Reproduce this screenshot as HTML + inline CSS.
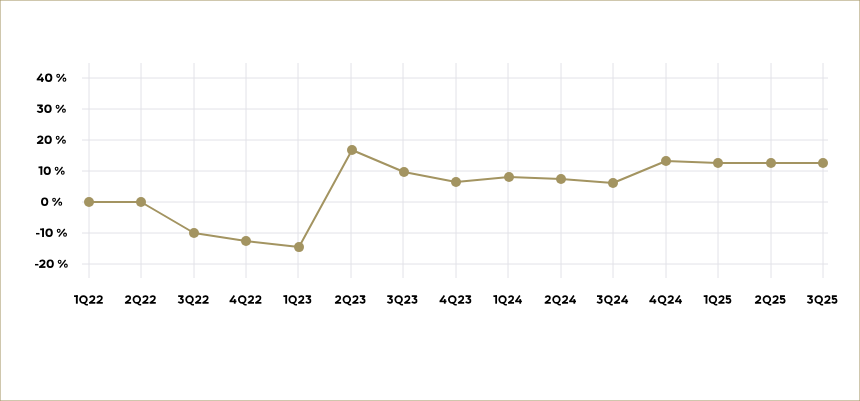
<!DOCTYPE html>
<html><head><meta charset="utf-8"><style>
html,body{margin:0;padding:0;background:#fff;}
.wrap{position:relative;width:860px;height:401px;background:#fff;overflow:hidden;}
svg{position:absolute;left:0;top:0;}
</style></head><body><div class="wrap">
<svg width="860" height="401" viewBox="0 0 860 401">
<line x1="82" y1="78" x2="828" y2="78" stroke="#e2e2e8" stroke-width="1"/>
<line x1="82" y1="109" x2="828" y2="109" stroke="#e2e2e8" stroke-width="1"/>
<line x1="82" y1="140" x2="828" y2="140" stroke="#e2e2e8" stroke-width="1"/>
<line x1="82" y1="171" x2="828" y2="171" stroke="#e2e2e8" stroke-width="1"/>
<line x1="82" y1="202" x2="828" y2="202" stroke="#e2e2e8" stroke-width="1"/>
<line x1="82" y1="233" x2="828" y2="233" stroke="#e2e2e8" stroke-width="1"/>
<line x1="82" y1="264" x2="828" y2="264" stroke="#e2e2e8" stroke-width="1"/>
<line x1="89" y1="63" x2="89" y2="278" stroke="#e2e2e8" stroke-width="1"/>
<line x1="141" y1="63" x2="141" y2="278" stroke="#e2e2e8" stroke-width="1"/>
<line x1="194" y1="63" x2="194" y2="278" stroke="#e2e2e8" stroke-width="1"/>
<line x1="246" y1="63" x2="246" y2="278" stroke="#e2e2e8" stroke-width="1"/>
<line x1="298" y1="63" x2="298" y2="278" stroke="#e2e2e8" stroke-width="1"/>
<line x1="351" y1="63" x2="351" y2="278" stroke="#e2e2e8" stroke-width="1"/>
<line x1="403" y1="63" x2="403" y2="278" stroke="#e2e2e8" stroke-width="1"/>
<line x1="456" y1="63" x2="456" y2="278" stroke="#e2e2e8" stroke-width="1"/>
<line x1="508" y1="63" x2="508" y2="278" stroke="#e2e2e8" stroke-width="1"/>
<line x1="561" y1="63" x2="561" y2="278" stroke="#e2e2e8" stroke-width="1"/>
<line x1="613" y1="63" x2="613" y2="278" stroke="#e2e2e8" stroke-width="1"/>
<line x1="666" y1="63" x2="666" y2="278" stroke="#e2e2e8" stroke-width="1"/>
<line x1="718" y1="63" x2="718" y2="278" stroke="#e2e2e8" stroke-width="1"/>
<line x1="771" y1="63" x2="771" y2="278" stroke="#e2e2e8" stroke-width="1"/>
<line x1="823" y1="63" x2="823" y2="278" stroke="#e2e2e8" stroke-width="1"/>
<polyline points="89,202 141,202 194,233 246,241 299,247.1 352,150 404,172 456,182 509,177 561,179 613,183 666,161 718,163 771,163 823,163" fill="none" stroke="#a39461" stroke-width="2" stroke-linejoin="round"/>
<circle cx="89" cy="202" r="5" fill="#a39461"/>
<circle cx="141" cy="202" r="5" fill="#a39461"/>
<circle cx="194" cy="233" r="5" fill="#a39461"/>
<circle cx="246" cy="241" r="5" fill="#a39461"/>
<circle cx="299" cy="247.1" r="5" fill="#a39461"/>
<circle cx="352" cy="150" r="5" fill="#a39461"/>
<circle cx="404" cy="172" r="5" fill="#a39461"/>
<circle cx="456" cy="182" r="5" fill="#a39461"/>
<circle cx="509" cy="177" r="5" fill="#a39461"/>
<circle cx="561" cy="179" r="5" fill="#a39461"/>
<circle cx="613" cy="183" r="5" fill="#a39461"/>
<circle cx="666" cy="161" r="5" fill="#a39461"/>
<circle cx="718" cy="163" r="5" fill="#a39461"/>
<circle cx="771" cy="163" r="5" fill="#a39461"/>
<circle cx="823" cy="163" r="5" fill="#a39461"/>
<g transform="translate(36.70,81.90) scale(0.9966,1)">
<path transform="translate(0.00,0)" d="M5.0,-8.2 L0.9,-2.4" fill="none" stroke="#000" stroke-width="1.75" stroke-linejoin="miter" stroke-miterlimit="3"/>
<path transform="translate(0.00,0)" d="M0,-2.3 L7.2,-2.3" fill="none" stroke="#000" stroke-width="1.6" stroke-linejoin="miter" stroke-miterlimit="3"/>
<path transform="translate(0.00,0)" d="M5.4,-4.6 L5.4,0" fill="none" stroke="#000" stroke-width="1.85" stroke-linejoin="miter" stroke-miterlimit="3"/>
<path transform="translate(8.30,0)" d="M0.000,-4.250 a3.700,4.250 0 1,0 7.400,0 a3.700,4.250 0 1,0 -7.400,0 Z M1.900,-4.250 a1.800,2.600 0 1,0 3.600,0 a1.800,2.600 0 1,0 -3.600,0 Z" fill="#000" fill-rule="evenodd"/>
<path transform="translate(19.60,0)" d="M0.000,-6.050 a1.950,2.100 0 1,0 3.900,0 a1.950,2.100 0 1,0 -3.900,0 Z M1.150,-6.050 a0.800,1.000 0 1,0 1.600,0 a0.800,1.000 0 1,0 -1.600,0 Z" fill="#000" fill-rule="evenodd"/>
<path transform="translate(19.60,0)" d="M6.300,-2.200 a1.950,2.150 0 1,0 3.900,0 a1.950,2.150 0 1,0 -3.900,0 Z M7.450,-2.200 a0.800,1.000 0 1,0 1.600,0 a0.800,1.000 0 1,0 -1.600,0 Z" fill="#000" fill-rule="evenodd"/>
<path transform="translate(19.60,0)" d="M7.95,-7.9 L2.0,-0.25" fill="none" stroke="#000" stroke-width="1.3" stroke-linejoin="miter" stroke-miterlimit="3"/>
</g>
<g transform="translate(36.90,112.90) scale(1.0069,1)">
<path transform="translate(0.00,0)" d="M0.3,-7.55 L5.5,-7.55 L2.7,-4.75 L3.1,-4.75 C4.5,-4.75 5.3,-3.9 5.3,-2.75 C5.3,-1.55 4.4,-0.85 3.0,-0.85 C1.9,-0.85 1.0,-1.25 0.4,-1.95" fill="none" stroke="#000" stroke-width="1.75" stroke-linejoin="bevel" stroke-miterlimit="3"/>
<path transform="translate(7.30,0)" d="M0.000,-4.250 a3.700,4.250 0 1,0 7.400,0 a3.700,4.250 0 1,0 -7.400,0 Z M1.900,-4.250 a1.800,2.600 0 1,0 3.600,0 a1.800,2.600 0 1,0 -3.600,0 Z" fill="#000" fill-rule="evenodd"/>
<path transform="translate(18.60,0)" d="M0.000,-6.050 a1.950,2.100 0 1,0 3.900,0 a1.950,2.100 0 1,0 -3.900,0 Z M1.150,-6.050 a0.800,1.000 0 1,0 1.600,0 a0.800,1.000 0 1,0 -1.600,0 Z" fill="#000" fill-rule="evenodd"/>
<path transform="translate(18.60,0)" d="M6.300,-2.200 a1.950,2.150 0 1,0 3.900,0 a1.950,2.150 0 1,0 -3.900,0 Z M7.450,-2.200 a0.800,1.000 0 1,0 1.600,0 a0.800,1.000 0 1,0 -1.600,0 Z" fill="#000" fill-rule="evenodd"/>
<path transform="translate(18.60,0)" d="M7.95,-7.9 L2.0,-0.25" fill="none" stroke="#000" stroke-width="1.3" stroke-linejoin="miter" stroke-miterlimit="3"/>
</g>
<g transform="translate(36.90,143.90) scale(0.9966,1)">
<path transform="translate(0.00,0)" d="M0.8,-6.0 C1.3,-7.2 2.2,-7.55 3.3,-7.55 C4.7,-7.55 5.55,-6.7 5.55,-5.6 C5.55,-4.7 5.0,-4.1 4.1,-3.35 L1.0,-0.95" fill="none" stroke="#000" stroke-width="1.75" stroke-linejoin="miter" stroke-miterlimit="3"/>
<path transform="translate(0.00,0)" d="M0.05,-0.85 L6.5,-0.85" fill="none" stroke="#000" stroke-width="1.75" stroke-linejoin="miter" stroke-miterlimit="3"/>
<path transform="translate(7.60,0)" d="M0.000,-4.250 a3.700,4.250 0 1,0 7.400,0 a3.700,4.250 0 1,0 -7.400,0 Z M1.900,-4.250 a1.800,2.600 0 1,0 3.600,0 a1.800,2.600 0 1,0 -3.600,0 Z" fill="#000" fill-rule="evenodd"/>
<path transform="translate(18.90,0)" d="M0.000,-6.050 a1.950,2.100 0 1,0 3.900,0 a1.950,2.100 0 1,0 -3.900,0 Z M1.150,-6.050 a0.800,1.000 0 1,0 1.600,0 a0.800,1.000 0 1,0 -1.600,0 Z" fill="#000" fill-rule="evenodd"/>
<path transform="translate(18.90,0)" d="M6.300,-2.200 a1.950,2.150 0 1,0 3.900,0 a1.950,2.150 0 1,0 -3.900,0 Z M7.450,-2.200 a0.800,1.000 0 1,0 1.600,0 a0.800,1.000 0 1,0 -1.600,0 Z" fill="#000" fill-rule="evenodd"/>
<path transform="translate(18.90,0)" d="M7.95,-7.9 L2.0,-0.25" fill="none" stroke="#000" stroke-width="1.3" stroke-linejoin="miter" stroke-miterlimit="3"/>
</g>
<g transform="translate(38.50,174.90) scale(0.9794,1)">
<path transform="translate(0.00,0)" d="M2.9,-8.4 L2.9,0" fill="none" stroke="#000" stroke-width="1.9" stroke-linejoin="miter" stroke-miterlimit="3"/>
<path transform="translate(0.00,0)" d="M0,-7.55 L3.85,-7.55" fill="none" stroke="#000" stroke-width="1.7" stroke-linejoin="miter" stroke-miterlimit="3"/>
<path transform="translate(5.25,0)" d="M0.000,-4.250 a3.700,4.250 0 1,0 7.400,0 a3.700,4.250 0 1,0 -7.400,0 Z M1.900,-4.250 a1.800,2.600 0 1,0 3.600,0 a1.800,2.600 0 1,0 -3.600,0 Z" fill="#000" fill-rule="evenodd"/>
<path transform="translate(16.55,0)" d="M0.000,-6.050 a1.950,2.100 0 1,0 3.900,0 a1.950,2.100 0 1,0 -3.900,0 Z M1.150,-6.050 a0.800,1.000 0 1,0 1.600,0 a0.800,1.000 0 1,0 -1.600,0 Z" fill="#000" fill-rule="evenodd"/>
<path transform="translate(16.55,0)" d="M6.300,-2.200 a1.950,2.150 0 1,0 3.900,0 a1.950,2.150 0 1,0 -3.900,0 Z M7.450,-2.200 a0.800,1.000 0 1,0 1.600,0 a0.800,1.000 0 1,0 -1.600,0 Z" fill="#000" fill-rule="evenodd"/>
<path transform="translate(16.55,0)" d="M7.95,-7.9 L2.0,-0.25" fill="none" stroke="#000" stroke-width="1.3" stroke-linejoin="miter" stroke-miterlimit="3"/>
</g>
<g transform="translate(41.00,205.90) scale(0.9860,1)">
<path transform="translate(0.00,0)" d="M0.000,-4.250 a3.700,4.250 0 1,0 7.400,0 a3.700,4.250 0 1,0 -7.400,0 Z M1.900,-4.250 a1.800,2.600 0 1,0 3.600,0 a1.800,2.600 0 1,0 -3.600,0 Z" fill="#000" fill-rule="evenodd"/>
<path transform="translate(11.30,0)" d="M0.000,-6.050 a1.950,2.100 0 1,0 3.900,0 a1.950,2.100 0 1,0 -3.900,0 Z M1.150,-6.050 a0.800,1.000 0 1,0 1.600,0 a0.800,1.000 0 1,0 -1.600,0 Z" fill="#000" fill-rule="evenodd"/>
<path transform="translate(11.30,0)" d="M6.300,-2.200 a1.950,2.150 0 1,0 3.900,0 a1.950,2.150 0 1,0 -3.900,0 Z M7.450,-2.200 a0.800,1.000 0 1,0 1.600,0 a0.800,1.000 0 1,0 -1.600,0 Z" fill="#000" fill-rule="evenodd"/>
<path transform="translate(11.30,0)" d="M7.95,-7.9 L2.0,-0.25" fill="none" stroke="#000" stroke-width="1.3" stroke-linejoin="miter" stroke-miterlimit="3"/>
</g>
<g transform="translate(36.00,236.90) scale(1.0049,1)">
<path transform="translate(0.00,0)" d="M0,-3.2 L3.5,-3.2" fill="none" stroke="#000" stroke-width="1.5" stroke-linejoin="miter" stroke-miterlimit="3"/>
<path transform="translate(4.10,0)" d="M2.9,-8.4 L2.9,0" fill="none" stroke="#000" stroke-width="1.9" stroke-linejoin="miter" stroke-miterlimit="3"/>
<path transform="translate(4.10,0)" d="M0,-7.55 L3.85,-7.55" fill="none" stroke="#000" stroke-width="1.7" stroke-linejoin="miter" stroke-miterlimit="3"/>
<path transform="translate(9.35,0)" d="M0.000,-4.250 a3.700,4.250 0 1,0 7.400,0 a3.700,4.250 0 1,0 -7.400,0 Z M1.900,-4.250 a1.800,2.600 0 1,0 3.600,0 a1.800,2.600 0 1,0 -3.600,0 Z" fill="#000" fill-rule="evenodd"/>
<path transform="translate(20.65,0)" d="M0.000,-6.050 a1.950,2.100 0 1,0 3.900,0 a1.950,2.100 0 1,0 -3.900,0 Z M1.150,-6.050 a0.800,1.000 0 1,0 1.600,0 a0.800,1.000 0 1,0 -1.600,0 Z" fill="#000" fill-rule="evenodd"/>
<path transform="translate(20.65,0)" d="M6.300,-2.200 a1.950,2.150 0 1,0 3.900,0 a1.950,2.150 0 1,0 -3.900,0 Z M7.450,-2.200 a0.800,1.000 0 1,0 1.600,0 a0.800,1.000 0 1,0 -1.600,0 Z" fill="#000" fill-rule="evenodd"/>
<path transform="translate(20.65,0)" d="M7.95,-7.9 L2.0,-0.25" fill="none" stroke="#000" stroke-width="1.3" stroke-linejoin="miter" stroke-miterlimit="3"/>
</g>
<g transform="translate(35.00,267.90) scale(0.9880,1)">
<path transform="translate(0.00,0)" d="M0,-3.2 L3.5,-3.2" fill="none" stroke="#000" stroke-width="1.5" stroke-linejoin="miter" stroke-miterlimit="3"/>
<path transform="translate(4.10,0)" d="M0.8,-6.0 C1.3,-7.2 2.2,-7.55 3.3,-7.55 C4.7,-7.55 5.55,-6.7 5.55,-5.6 C5.55,-4.7 5.0,-4.1 4.1,-3.35 L1.0,-0.95" fill="none" stroke="#000" stroke-width="1.75" stroke-linejoin="miter" stroke-miterlimit="3"/>
<path transform="translate(4.10,0)" d="M0.05,-0.85 L6.5,-0.85" fill="none" stroke="#000" stroke-width="1.75" stroke-linejoin="miter" stroke-miterlimit="3"/>
<path transform="translate(11.70,0)" d="M0.000,-4.250 a3.700,4.250 0 1,0 7.400,0 a3.700,4.250 0 1,0 -7.400,0 Z M1.900,-4.250 a1.800,2.600 0 1,0 3.600,0 a1.800,2.600 0 1,0 -3.600,0 Z" fill="#000" fill-rule="evenodd"/>
<path transform="translate(23.00,0)" d="M0.000,-6.050 a1.950,2.100 0 1,0 3.900,0 a1.950,2.100 0 1,0 -3.900,0 Z M1.150,-6.050 a0.800,1.000 0 1,0 1.600,0 a0.800,1.000 0 1,0 -1.600,0 Z" fill="#000" fill-rule="evenodd"/>
<path transform="translate(23.00,0)" d="M6.300,-2.200 a1.950,2.150 0 1,0 3.900,0 a1.950,2.150 0 1,0 -3.900,0 Z M7.450,-2.200 a0.800,1.000 0 1,0 1.600,0 a0.800,1.000 0 1,0 -1.600,0 Z" fill="#000" fill-rule="evenodd"/>
<path transform="translate(23.00,0)" d="M7.95,-7.9 L2.0,-0.25" fill="none" stroke="#000" stroke-width="1.3" stroke-linejoin="miter" stroke-miterlimit="3"/>
</g>
<g transform="translate(74.00,303.70) scale(0.9779,1)">
<path transform="translate(0.00,0)" d="M2.9,-8.4 L2.9,0" fill="none" stroke="#000" stroke-width="1.9" stroke-linejoin="miter" stroke-miterlimit="3"/>
<path transform="translate(0.00,0)" d="M0,-7.55 L3.85,-7.55" fill="none" stroke="#000" stroke-width="1.7" stroke-linejoin="miter" stroke-miterlimit="3"/>
<path transform="translate(5.25,0)" d="M0.000,-4.200 a4.400,4.200 0 1,0 8.800,0 a4.400,4.200 0 1,0 -8.800,0 Z M1.850,-4.200 a2.550,2.550 0 1,0 5.100,0 a2.550,2.550 0 1,0 -5.100,0 Z" fill="#000" fill-rule="evenodd"/>
<path transform="translate(5.25,0)" d="M4.5,-1.5 L6.1,0.4 Q6.7,1.1 7.6,1.1 L9.0,1.1" fill="none" stroke="#000" stroke-width="1.6" stroke-linejoin="miter" stroke-miterlimit="3"/>
<path transform="translate(15.35,0)" d="M0.8,-6.0 C1.3,-7.2 2.2,-7.55 3.3,-7.55 C4.7,-7.55 5.55,-6.7 5.55,-5.6 C5.55,-4.7 5.0,-4.1 4.1,-3.35 L1.0,-0.95" fill="none" stroke="#000" stroke-width="1.75" stroke-linejoin="miter" stroke-miterlimit="3"/>
<path transform="translate(15.35,0)" d="M0.05,-0.85 L6.5,-0.85" fill="none" stroke="#000" stroke-width="1.75" stroke-linejoin="miter" stroke-miterlimit="3"/>
<path transform="translate(22.95,0)" d="M0.8,-6.0 C1.3,-7.2 2.2,-7.55 3.3,-7.55 C4.7,-7.55 5.55,-6.7 5.55,-5.6 C5.55,-4.7 5.0,-4.1 4.1,-3.35 L1.0,-0.95" fill="none" stroke="#000" stroke-width="1.75" stroke-linejoin="miter" stroke-miterlimit="3"/>
<path transform="translate(22.95,0)" d="M0.05,-0.85 L6.5,-0.85" fill="none" stroke="#000" stroke-width="1.75" stroke-linejoin="miter" stroke-miterlimit="3"/>
</g>
<g transform="translate(124.90,303.70) scale(0.9596,1)">
<path transform="translate(0.00,0)" d="M0.8,-6.0 C1.3,-7.2 2.2,-7.55 3.3,-7.55 C4.7,-7.55 5.55,-6.7 5.55,-5.6 C5.55,-4.7 5.0,-4.1 4.1,-3.35 L1.0,-0.95" fill="none" stroke="#000" stroke-width="1.75" stroke-linejoin="miter" stroke-miterlimit="3"/>
<path transform="translate(0.00,0)" d="M0.05,-0.85 L6.5,-0.85" fill="none" stroke="#000" stroke-width="1.75" stroke-linejoin="miter" stroke-miterlimit="3"/>
<path transform="translate(8.00,0)" d="M0.000,-4.200 a4.400,4.200 0 1,0 8.800,0 a4.400,4.200 0 1,0 -8.800,0 Z M1.850,-4.200 a2.550,2.550 0 1,0 5.100,0 a2.550,2.550 0 1,0 -5.100,0 Z" fill="#000" fill-rule="evenodd"/>
<path transform="translate(8.00,0)" d="M4.5,-1.5 L6.1,0.4 Q6.7,1.1 7.6,1.1 L9.0,1.1" fill="none" stroke="#000" stroke-width="1.6" stroke-linejoin="miter" stroke-miterlimit="3"/>
<path transform="translate(18.10,0)" d="M0.8,-6.0 C1.3,-7.2 2.2,-7.55 3.3,-7.55 C4.7,-7.55 5.55,-6.7 5.55,-5.6 C5.55,-4.7 5.0,-4.1 4.1,-3.35 L1.0,-0.95" fill="none" stroke="#000" stroke-width="1.75" stroke-linejoin="miter" stroke-miterlimit="3"/>
<path transform="translate(18.10,0)" d="M0.05,-0.85 L6.5,-0.85" fill="none" stroke="#000" stroke-width="1.75" stroke-linejoin="miter" stroke-miterlimit="3"/>
<path transform="translate(25.70,0)" d="M0.8,-6.0 C1.3,-7.2 2.2,-7.55 3.3,-7.55 C4.7,-7.55 5.55,-6.7 5.55,-5.6 C5.55,-4.7 5.0,-4.1 4.1,-3.35 L1.0,-0.95" fill="none" stroke="#000" stroke-width="1.75" stroke-linejoin="miter" stroke-miterlimit="3"/>
<path transform="translate(25.70,0)" d="M0.05,-0.85 L6.5,-0.85" fill="none" stroke="#000" stroke-width="1.75" stroke-linejoin="miter" stroke-miterlimit="3"/>
</g>
<g transform="translate(177.90,303.70) scale(0.9624,1)">
<path transform="translate(0.00,0)" d="M0.3,-7.55 L5.5,-7.55 L2.7,-4.75 L3.1,-4.75 C4.5,-4.75 5.3,-3.9 5.3,-2.75 C5.3,-1.55 4.4,-0.85 3.0,-0.85 C1.9,-0.85 1.0,-1.25 0.4,-1.95" fill="none" stroke="#000" stroke-width="1.75" stroke-linejoin="bevel" stroke-miterlimit="3"/>
<path transform="translate(7.70,0)" d="M0.000,-4.200 a4.400,4.200 0 1,0 8.800,0 a4.400,4.200 0 1,0 -8.800,0 Z M1.850,-4.200 a2.550,2.550 0 1,0 5.100,0 a2.550,2.550 0 1,0 -5.100,0 Z" fill="#000" fill-rule="evenodd"/>
<path transform="translate(7.70,0)" d="M4.5,-1.5 L6.1,0.4 Q6.7,1.1 7.6,1.1 L9.0,1.1" fill="none" stroke="#000" stroke-width="1.6" stroke-linejoin="miter" stroke-miterlimit="3"/>
<path transform="translate(17.80,0)" d="M0.8,-6.0 C1.3,-7.2 2.2,-7.55 3.3,-7.55 C4.7,-7.55 5.55,-6.7 5.55,-5.6 C5.55,-4.7 5.0,-4.1 4.1,-3.35 L1.0,-0.95" fill="none" stroke="#000" stroke-width="1.75" stroke-linejoin="miter" stroke-miterlimit="3"/>
<path transform="translate(17.80,0)" d="M0.05,-0.85 L6.5,-0.85" fill="none" stroke="#000" stroke-width="1.75" stroke-linejoin="miter" stroke-miterlimit="3"/>
<path transform="translate(25.40,0)" d="M0.8,-6.0 C1.3,-7.2 2.2,-7.55 3.3,-7.55 C4.7,-7.55 5.55,-6.7 5.55,-5.6 C5.55,-4.7 5.0,-4.1 4.1,-3.35 L1.0,-0.95" fill="none" stroke="#000" stroke-width="1.75" stroke-linejoin="miter" stroke-miterlimit="3"/>
<path transform="translate(25.40,0)" d="M0.05,-0.85 L6.5,-0.85" fill="none" stroke="#000" stroke-width="1.75" stroke-linejoin="miter" stroke-miterlimit="3"/>
</g>
<g transform="translate(229.50,303.70) scale(0.9696,1)">
<path transform="translate(0.00,0)" d="M5.0,-8.2 L0.9,-2.4" fill="none" stroke="#000" stroke-width="1.75" stroke-linejoin="miter" stroke-miterlimit="3"/>
<path transform="translate(0.00,0)" d="M0,-2.3 L7.2,-2.3" fill="none" stroke="#000" stroke-width="1.6" stroke-linejoin="miter" stroke-miterlimit="3"/>
<path transform="translate(0.00,0)" d="M5.4,-4.6 L5.4,0" fill="none" stroke="#000" stroke-width="1.85" stroke-linejoin="miter" stroke-miterlimit="3"/>
<path transform="translate(8.70,0)" d="M0.000,-4.200 a4.400,4.200 0 1,0 8.800,0 a4.400,4.200 0 1,0 -8.800,0 Z M1.850,-4.200 a2.550,2.550 0 1,0 5.100,0 a2.550,2.550 0 1,0 -5.100,0 Z" fill="#000" fill-rule="evenodd"/>
<path transform="translate(8.70,0)" d="M4.5,-1.5 L6.1,0.4 Q6.7,1.1 7.6,1.1 L9.0,1.1" fill="none" stroke="#000" stroke-width="1.6" stroke-linejoin="miter" stroke-miterlimit="3"/>
<path transform="translate(18.80,0)" d="M0.8,-6.0 C1.3,-7.2 2.2,-7.55 3.3,-7.55 C4.7,-7.55 5.55,-6.7 5.55,-5.6 C5.55,-4.7 5.0,-4.1 4.1,-3.35 L1.0,-0.95" fill="none" stroke="#000" stroke-width="1.75" stroke-linejoin="miter" stroke-miterlimit="3"/>
<path transform="translate(18.80,0)" d="M0.05,-0.85 L6.5,-0.85" fill="none" stroke="#000" stroke-width="1.75" stroke-linejoin="miter" stroke-miterlimit="3"/>
<path transform="translate(26.40,0)" d="M0.8,-6.0 C1.3,-7.2 2.2,-7.55 3.3,-7.55 C4.7,-7.55 5.55,-6.7 5.55,-5.6 C5.55,-4.7 5.0,-4.1 4.1,-3.35 L1.0,-0.95" fill="none" stroke="#000" stroke-width="1.75" stroke-linejoin="miter" stroke-miterlimit="3"/>
<path transform="translate(26.40,0)" d="M0.05,-0.85 L6.5,-0.85" fill="none" stroke="#000" stroke-width="1.75" stroke-linejoin="miter" stroke-miterlimit="3"/>
</g>
<g transform="translate(283.40,303.70) scale(0.9571,1)">
<path transform="translate(0.00,0)" d="M2.9,-8.4 L2.9,0" fill="none" stroke="#000" stroke-width="1.9" stroke-linejoin="miter" stroke-miterlimit="3"/>
<path transform="translate(0.00,0)" d="M0,-7.55 L3.85,-7.55" fill="none" stroke="#000" stroke-width="1.7" stroke-linejoin="miter" stroke-miterlimit="3"/>
<path transform="translate(5.25,0)" d="M0.000,-4.200 a4.400,4.200 0 1,0 8.800,0 a4.400,4.200 0 1,0 -8.800,0 Z M1.850,-4.200 a2.550,2.550 0 1,0 5.100,0 a2.550,2.550 0 1,0 -5.100,0 Z" fill="#000" fill-rule="evenodd"/>
<path transform="translate(5.25,0)" d="M4.5,-1.5 L6.1,0.4 Q6.7,1.1 7.6,1.1 L9.0,1.1" fill="none" stroke="#000" stroke-width="1.6" stroke-linejoin="miter" stroke-miterlimit="3"/>
<path transform="translate(15.35,0)" d="M0.8,-6.0 C1.3,-7.2 2.2,-7.55 3.3,-7.55 C4.7,-7.55 5.55,-6.7 5.55,-5.6 C5.55,-4.7 5.0,-4.1 4.1,-3.35 L1.0,-0.95" fill="none" stroke="#000" stroke-width="1.75" stroke-linejoin="miter" stroke-miterlimit="3"/>
<path transform="translate(15.35,0)" d="M0.05,-0.85 L6.5,-0.85" fill="none" stroke="#000" stroke-width="1.75" stroke-linejoin="miter" stroke-miterlimit="3"/>
<path transform="translate(22.95,0)" d="M0.3,-7.55 L5.5,-7.55 L2.7,-4.75 L3.1,-4.75 C4.5,-4.75 5.3,-3.9 5.3,-2.75 C5.3,-1.55 4.4,-0.85 3.0,-0.85 C1.9,-0.85 1.0,-1.25 0.4,-1.95" fill="none" stroke="#000" stroke-width="1.75" stroke-linejoin="bevel" stroke-miterlimit="3"/>
</g>
<g transform="translate(334.90,303.70) scale(0.9592,1)">
<path transform="translate(0.00,0)" d="M0.8,-6.0 C1.3,-7.2 2.2,-7.55 3.3,-7.55 C4.7,-7.55 5.55,-6.7 5.55,-5.6 C5.55,-4.7 5.0,-4.1 4.1,-3.35 L1.0,-0.95" fill="none" stroke="#000" stroke-width="1.75" stroke-linejoin="miter" stroke-miterlimit="3"/>
<path transform="translate(0.00,0)" d="M0.05,-0.85 L6.5,-0.85" fill="none" stroke="#000" stroke-width="1.75" stroke-linejoin="miter" stroke-miterlimit="3"/>
<path transform="translate(8.00,0)" d="M0.000,-4.200 a4.400,4.200 0 1,0 8.800,0 a4.400,4.200 0 1,0 -8.800,0 Z M1.850,-4.200 a2.550,2.550 0 1,0 5.100,0 a2.550,2.550 0 1,0 -5.100,0 Z" fill="#000" fill-rule="evenodd"/>
<path transform="translate(8.00,0)" d="M4.5,-1.5 L6.1,0.4 Q6.7,1.1 7.6,1.1 L9.0,1.1" fill="none" stroke="#000" stroke-width="1.6" stroke-linejoin="miter" stroke-miterlimit="3"/>
<path transform="translate(18.10,0)" d="M0.8,-6.0 C1.3,-7.2 2.2,-7.55 3.3,-7.55 C4.7,-7.55 5.55,-6.7 5.55,-5.6 C5.55,-4.7 5.0,-4.1 4.1,-3.35 L1.0,-0.95" fill="none" stroke="#000" stroke-width="1.75" stroke-linejoin="miter" stroke-miterlimit="3"/>
<path transform="translate(18.10,0)" d="M0.05,-0.85 L6.5,-0.85" fill="none" stroke="#000" stroke-width="1.75" stroke-linejoin="miter" stroke-miterlimit="3"/>
<path transform="translate(25.70,0)" d="M0.3,-7.55 L5.5,-7.55 L2.7,-4.75 L3.1,-4.75 C4.5,-4.75 5.3,-3.9 5.3,-2.75 C5.3,-1.55 4.4,-0.85 3.0,-0.85 C1.9,-0.85 1.0,-1.25 0.4,-1.95" fill="none" stroke="#000" stroke-width="1.75" stroke-linejoin="bevel" stroke-miterlimit="3"/>
</g>
<g transform="translate(387.00,303.70) scale(0.9620,1)">
<path transform="translate(0.00,0)" d="M0.3,-7.55 L5.5,-7.55 L2.7,-4.75 L3.1,-4.75 C4.5,-4.75 5.3,-3.9 5.3,-2.75 C5.3,-1.55 4.4,-0.85 3.0,-0.85 C1.9,-0.85 1.0,-1.25 0.4,-1.95" fill="none" stroke="#000" stroke-width="1.75" stroke-linejoin="bevel" stroke-miterlimit="3"/>
<path transform="translate(7.70,0)" d="M0.000,-4.200 a4.400,4.200 0 1,0 8.800,0 a4.400,4.200 0 1,0 -8.800,0 Z M1.850,-4.200 a2.550,2.550 0 1,0 5.100,0 a2.550,2.550 0 1,0 -5.100,0 Z" fill="#000" fill-rule="evenodd"/>
<path transform="translate(7.70,0)" d="M4.5,-1.5 L6.1,0.4 Q6.7,1.1 7.6,1.1 L9.0,1.1" fill="none" stroke="#000" stroke-width="1.6" stroke-linejoin="miter" stroke-miterlimit="3"/>
<path transform="translate(17.80,0)" d="M0.8,-6.0 C1.3,-7.2 2.2,-7.55 3.3,-7.55 C4.7,-7.55 5.55,-6.7 5.55,-5.6 C5.55,-4.7 5.0,-4.1 4.1,-3.35 L1.0,-0.95" fill="none" stroke="#000" stroke-width="1.75" stroke-linejoin="miter" stroke-miterlimit="3"/>
<path transform="translate(17.80,0)" d="M0.05,-0.85 L6.5,-0.85" fill="none" stroke="#000" stroke-width="1.75" stroke-linejoin="miter" stroke-miterlimit="3"/>
<path transform="translate(25.40,0)" d="M0.3,-7.55 L5.5,-7.55 L2.7,-4.75 L3.1,-4.75 C4.5,-4.75 5.3,-3.9 5.3,-2.75 C5.3,-1.55 4.4,-0.85 3.0,-0.85 C1.9,-0.85 1.0,-1.25 0.4,-1.95" fill="none" stroke="#000" stroke-width="1.75" stroke-linejoin="bevel" stroke-miterlimit="3"/>
</g>
<g transform="translate(439.50,303.70) scale(0.9755,1)">
<path transform="translate(0.00,0)" d="M5.0,-8.2 L0.9,-2.4" fill="none" stroke="#000" stroke-width="1.75" stroke-linejoin="miter" stroke-miterlimit="3"/>
<path transform="translate(0.00,0)" d="M0,-2.3 L7.2,-2.3" fill="none" stroke="#000" stroke-width="1.6" stroke-linejoin="miter" stroke-miterlimit="3"/>
<path transform="translate(0.00,0)" d="M5.4,-4.6 L5.4,0" fill="none" stroke="#000" stroke-width="1.85" stroke-linejoin="miter" stroke-miterlimit="3"/>
<path transform="translate(8.70,0)" d="M0.000,-4.200 a4.400,4.200 0 1,0 8.800,0 a4.400,4.200 0 1,0 -8.800,0 Z M1.850,-4.200 a2.550,2.550 0 1,0 5.100,0 a2.550,2.550 0 1,0 -5.100,0 Z" fill="#000" fill-rule="evenodd"/>
<path transform="translate(8.70,0)" d="M4.5,-1.5 L6.1,0.4 Q6.7,1.1 7.6,1.1 L9.0,1.1" fill="none" stroke="#000" stroke-width="1.6" stroke-linejoin="miter" stroke-miterlimit="3"/>
<path transform="translate(18.80,0)" d="M0.8,-6.0 C1.3,-7.2 2.2,-7.55 3.3,-7.55 C4.7,-7.55 5.55,-6.7 5.55,-5.6 C5.55,-4.7 5.0,-4.1 4.1,-3.35 L1.0,-0.95" fill="none" stroke="#000" stroke-width="1.75" stroke-linejoin="miter" stroke-miterlimit="3"/>
<path transform="translate(18.80,0)" d="M0.05,-0.85 L6.5,-0.85" fill="none" stroke="#000" stroke-width="1.75" stroke-linejoin="miter" stroke-miterlimit="3"/>
<path transform="translate(26.40,0)" d="M0.3,-7.55 L5.5,-7.55 L2.7,-4.75 L3.1,-4.75 C4.5,-4.75 5.3,-3.9 5.3,-2.75 C5.3,-1.55 4.4,-0.85 3.0,-0.85 C1.9,-0.85 1.0,-1.25 0.4,-1.95" fill="none" stroke="#000" stroke-width="1.75" stroke-linejoin="bevel" stroke-miterlimit="3"/>
</g>
<g transform="translate(493.40,303.70) scale(0.9453,1)">
<path transform="translate(0.00,0)" d="M2.9,-8.4 L2.9,0" fill="none" stroke="#000" stroke-width="1.9" stroke-linejoin="miter" stroke-miterlimit="3"/>
<path transform="translate(0.00,0)" d="M0,-7.55 L3.85,-7.55" fill="none" stroke="#000" stroke-width="1.7" stroke-linejoin="miter" stroke-miterlimit="3"/>
<path transform="translate(5.25,0)" d="M0.000,-4.200 a4.400,4.200 0 1,0 8.800,0 a4.400,4.200 0 1,0 -8.800,0 Z M1.850,-4.200 a2.550,2.550 0 1,0 5.100,0 a2.550,2.550 0 1,0 -5.100,0 Z" fill="#000" fill-rule="evenodd"/>
<path transform="translate(5.25,0)" d="M4.5,-1.5 L6.1,0.4 Q6.7,1.1 7.6,1.1 L9.0,1.1" fill="none" stroke="#000" stroke-width="1.6" stroke-linejoin="miter" stroke-miterlimit="3"/>
<path transform="translate(15.35,0)" d="M0.8,-6.0 C1.3,-7.2 2.2,-7.55 3.3,-7.55 C4.7,-7.55 5.55,-6.7 5.55,-5.6 C5.55,-4.7 5.0,-4.1 4.1,-3.35 L1.0,-0.95" fill="none" stroke="#000" stroke-width="1.75" stroke-linejoin="miter" stroke-miterlimit="3"/>
<path transform="translate(15.35,0)" d="M0.05,-0.85 L6.5,-0.85" fill="none" stroke="#000" stroke-width="1.75" stroke-linejoin="miter" stroke-miterlimit="3"/>
<path transform="translate(22.95,0)" d="M5.0,-8.2 L0.9,-2.4" fill="none" stroke="#000" stroke-width="1.75" stroke-linejoin="miter" stroke-miterlimit="3"/>
<path transform="translate(22.95,0)" d="M0,-2.3 L7.2,-2.3" fill="none" stroke="#000" stroke-width="1.6" stroke-linejoin="miter" stroke-miterlimit="3"/>
<path transform="translate(22.95,0)" d="M5.4,-4.6 L5.4,0" fill="none" stroke="#000" stroke-width="1.85" stroke-linejoin="miter" stroke-miterlimit="3"/>
</g>
<g transform="translate(544.65,303.70) scale(0.9529,1)">
<path transform="translate(0.00,0)" d="M0.8,-6.0 C1.3,-7.2 2.2,-7.55 3.3,-7.55 C4.7,-7.55 5.55,-6.7 5.55,-5.6 C5.55,-4.7 5.0,-4.1 4.1,-3.35 L1.0,-0.95" fill="none" stroke="#000" stroke-width="1.75" stroke-linejoin="miter" stroke-miterlimit="3"/>
<path transform="translate(0.00,0)" d="M0.05,-0.85 L6.5,-0.85" fill="none" stroke="#000" stroke-width="1.75" stroke-linejoin="miter" stroke-miterlimit="3"/>
<path transform="translate(8.00,0)" d="M0.000,-4.200 a4.400,4.200 0 1,0 8.800,0 a4.400,4.200 0 1,0 -8.800,0 Z M1.850,-4.200 a2.550,2.550 0 1,0 5.100,0 a2.550,2.550 0 1,0 -5.100,0 Z" fill="#000" fill-rule="evenodd"/>
<path transform="translate(8.00,0)" d="M4.5,-1.5 L6.1,0.4 Q6.7,1.1 7.6,1.1 L9.0,1.1" fill="none" stroke="#000" stroke-width="1.6" stroke-linejoin="miter" stroke-miterlimit="3"/>
<path transform="translate(18.10,0)" d="M0.8,-6.0 C1.3,-7.2 2.2,-7.55 3.3,-7.55 C4.7,-7.55 5.55,-6.7 5.55,-5.6 C5.55,-4.7 5.0,-4.1 4.1,-3.35 L1.0,-0.95" fill="none" stroke="#000" stroke-width="1.75" stroke-linejoin="miter" stroke-miterlimit="3"/>
<path transform="translate(18.10,0)" d="M0.05,-0.85 L6.5,-0.85" fill="none" stroke="#000" stroke-width="1.75" stroke-linejoin="miter" stroke-miterlimit="3"/>
<path transform="translate(25.70,0)" d="M5.0,-8.2 L0.9,-2.4" fill="none" stroke="#000" stroke-width="1.75" stroke-linejoin="miter" stroke-miterlimit="3"/>
<path transform="translate(25.70,0)" d="M0,-2.3 L7.2,-2.3" fill="none" stroke="#000" stroke-width="1.6" stroke-linejoin="miter" stroke-miterlimit="3"/>
<path transform="translate(25.70,0)" d="M5.4,-4.6 L5.4,0" fill="none" stroke="#000" stroke-width="1.85" stroke-linejoin="miter" stroke-miterlimit="3"/>
</g>
<g transform="translate(596.70,303.70) scale(0.9632,1)">
<path transform="translate(0.00,0)" d="M0.3,-7.55 L5.5,-7.55 L2.7,-4.75 L3.1,-4.75 C4.5,-4.75 5.3,-3.9 5.3,-2.75 C5.3,-1.55 4.4,-0.85 3.0,-0.85 C1.9,-0.85 1.0,-1.25 0.4,-1.95" fill="none" stroke="#000" stroke-width="1.75" stroke-linejoin="bevel" stroke-miterlimit="3"/>
<path transform="translate(7.70,0)" d="M0.000,-4.200 a4.400,4.200 0 1,0 8.800,0 a4.400,4.200 0 1,0 -8.800,0 Z M1.850,-4.200 a2.550,2.550 0 1,0 5.100,0 a2.550,2.550 0 1,0 -5.100,0 Z" fill="#000" fill-rule="evenodd"/>
<path transform="translate(7.70,0)" d="M4.5,-1.5 L6.1,0.4 Q6.7,1.1 7.6,1.1 L9.0,1.1" fill="none" stroke="#000" stroke-width="1.6" stroke-linejoin="miter" stroke-miterlimit="3"/>
<path transform="translate(17.80,0)" d="M0.8,-6.0 C1.3,-7.2 2.2,-7.55 3.3,-7.55 C4.7,-7.55 5.55,-6.7 5.55,-5.6 C5.55,-4.7 5.0,-4.1 4.1,-3.35 L1.0,-0.95" fill="none" stroke="#000" stroke-width="1.75" stroke-linejoin="miter" stroke-miterlimit="3"/>
<path transform="translate(17.80,0)" d="M0.05,-0.85 L6.5,-0.85" fill="none" stroke="#000" stroke-width="1.75" stroke-linejoin="miter" stroke-miterlimit="3"/>
<path transform="translate(25.40,0)" d="M5.0,-8.2 L0.9,-2.4" fill="none" stroke="#000" stroke-width="1.75" stroke-linejoin="miter" stroke-miterlimit="3"/>
<path transform="translate(25.40,0)" d="M0,-2.3 L7.2,-2.3" fill="none" stroke="#000" stroke-width="1.6" stroke-linejoin="miter" stroke-miterlimit="3"/>
<path transform="translate(25.40,0)" d="M5.4,-4.6 L5.4,0" fill="none" stroke="#000" stroke-width="1.85" stroke-linejoin="miter" stroke-miterlimit="3"/>
</g>
<g transform="translate(649.30,303.70) scale(0.9702,1)">
<path transform="translate(0.00,0)" d="M5.0,-8.2 L0.9,-2.4" fill="none" stroke="#000" stroke-width="1.75" stroke-linejoin="miter" stroke-miterlimit="3"/>
<path transform="translate(0.00,0)" d="M0,-2.3 L7.2,-2.3" fill="none" stroke="#000" stroke-width="1.6" stroke-linejoin="miter" stroke-miterlimit="3"/>
<path transform="translate(0.00,0)" d="M5.4,-4.6 L5.4,0" fill="none" stroke="#000" stroke-width="1.85" stroke-linejoin="miter" stroke-miterlimit="3"/>
<path transform="translate(8.70,0)" d="M0.000,-4.200 a4.400,4.200 0 1,0 8.800,0 a4.400,4.200 0 1,0 -8.800,0 Z M1.850,-4.200 a2.550,2.550 0 1,0 5.100,0 a2.550,2.550 0 1,0 -5.100,0 Z" fill="#000" fill-rule="evenodd"/>
<path transform="translate(8.70,0)" d="M4.5,-1.5 L6.1,0.4 Q6.7,1.1 7.6,1.1 L9.0,1.1" fill="none" stroke="#000" stroke-width="1.6" stroke-linejoin="miter" stroke-miterlimit="3"/>
<path transform="translate(18.80,0)" d="M0.8,-6.0 C1.3,-7.2 2.2,-7.55 3.3,-7.55 C4.7,-7.55 5.55,-6.7 5.55,-5.6 C5.55,-4.7 5.0,-4.1 4.1,-3.35 L1.0,-0.95" fill="none" stroke="#000" stroke-width="1.75" stroke-linejoin="miter" stroke-miterlimit="3"/>
<path transform="translate(18.80,0)" d="M0.05,-0.85 L6.5,-0.85" fill="none" stroke="#000" stroke-width="1.75" stroke-linejoin="miter" stroke-miterlimit="3"/>
<path transform="translate(26.40,0)" d="M5.0,-8.2 L0.9,-2.4" fill="none" stroke="#000" stroke-width="1.75" stroke-linejoin="miter" stroke-miterlimit="3"/>
<path transform="translate(26.40,0)" d="M0,-2.3 L7.2,-2.3" fill="none" stroke="#000" stroke-width="1.6" stroke-linejoin="miter" stroke-miterlimit="3"/>
<path transform="translate(26.40,0)" d="M5.4,-4.6 L5.4,0" fill="none" stroke="#000" stroke-width="1.85" stroke-linejoin="miter" stroke-miterlimit="3"/>
</g>
<g transform="translate(703.70,303.70) scale(0.9534,1)">
<path transform="translate(0.00,0)" d="M2.9,-8.4 L2.9,0" fill="none" stroke="#000" stroke-width="1.9" stroke-linejoin="miter" stroke-miterlimit="3"/>
<path transform="translate(0.00,0)" d="M0,-7.55 L3.85,-7.55" fill="none" stroke="#000" stroke-width="1.7" stroke-linejoin="miter" stroke-miterlimit="3"/>
<path transform="translate(5.25,0)" d="M0.000,-4.200 a4.400,4.200 0 1,0 8.800,0 a4.400,4.200 0 1,0 -8.800,0 Z M1.850,-4.200 a2.550,2.550 0 1,0 5.100,0 a2.550,2.550 0 1,0 -5.100,0 Z" fill="#000" fill-rule="evenodd"/>
<path transform="translate(5.25,0)" d="M4.5,-1.5 L6.1,0.4 Q6.7,1.1 7.6,1.1 L9.0,1.1" fill="none" stroke="#000" stroke-width="1.6" stroke-linejoin="miter" stroke-miterlimit="3"/>
<path transform="translate(15.35,0)" d="M0.8,-6.0 C1.3,-7.2 2.2,-7.55 3.3,-7.55 C4.7,-7.55 5.55,-6.7 5.55,-5.6 C5.55,-4.7 5.0,-4.1 4.1,-3.35 L1.0,-0.95" fill="none" stroke="#000" stroke-width="1.75" stroke-linejoin="miter" stroke-miterlimit="3"/>
<path transform="translate(15.35,0)" d="M0.05,-0.85 L6.5,-0.85" fill="none" stroke="#000" stroke-width="1.75" stroke-linejoin="miter" stroke-miterlimit="3"/>
<path transform="translate(22.95,0)" d="M5.4,-7.55 L1.15,-7.55 L1.15,-4.3" fill="none" stroke="#000" stroke-width="1.75" stroke-linejoin="miter" stroke-miterlimit="3"/>
<path transform="translate(22.95,0)" d="M1.15,-4.45 C1.8,-4.85 2.5,-5.0 3.1,-5.0 C4.4,-5.0 5.15,-4.0 5.15,-2.85 C5.15,-1.55 4.3,-0.85 2.95,-0.85 C1.9,-0.85 0.9,-1.25 0.3,-1.95" fill="none" stroke="#000" stroke-width="1.75" stroke-linejoin="miter" stroke-miterlimit="3"/>
</g>
<g transform="translate(754.90,303.70) scale(0.9653,1)">
<path transform="translate(0.00,0)" d="M0.8,-6.0 C1.3,-7.2 2.2,-7.55 3.3,-7.55 C4.7,-7.55 5.55,-6.7 5.55,-5.6 C5.55,-4.7 5.0,-4.1 4.1,-3.35 L1.0,-0.95" fill="none" stroke="#000" stroke-width="1.75" stroke-linejoin="miter" stroke-miterlimit="3"/>
<path transform="translate(0.00,0)" d="M0.05,-0.85 L6.5,-0.85" fill="none" stroke="#000" stroke-width="1.75" stroke-linejoin="miter" stroke-miterlimit="3"/>
<path transform="translate(8.00,0)" d="M0.000,-4.200 a4.400,4.200 0 1,0 8.800,0 a4.400,4.200 0 1,0 -8.800,0 Z M1.850,-4.200 a2.550,2.550 0 1,0 5.100,0 a2.550,2.550 0 1,0 -5.100,0 Z" fill="#000" fill-rule="evenodd"/>
<path transform="translate(8.00,0)" d="M4.5,-1.5 L6.1,0.4 Q6.7,1.1 7.6,1.1 L9.0,1.1" fill="none" stroke="#000" stroke-width="1.6" stroke-linejoin="miter" stroke-miterlimit="3"/>
<path transform="translate(18.10,0)" d="M0.8,-6.0 C1.3,-7.2 2.2,-7.55 3.3,-7.55 C4.7,-7.55 5.55,-6.7 5.55,-5.6 C5.55,-4.7 5.0,-4.1 4.1,-3.35 L1.0,-0.95" fill="none" stroke="#000" stroke-width="1.75" stroke-linejoin="miter" stroke-miterlimit="3"/>
<path transform="translate(18.10,0)" d="M0.05,-0.85 L6.5,-0.85" fill="none" stroke="#000" stroke-width="1.75" stroke-linejoin="miter" stroke-miterlimit="3"/>
<path transform="translate(25.70,0)" d="M5.4,-7.55 L1.15,-7.55 L1.15,-4.3" fill="none" stroke="#000" stroke-width="1.75" stroke-linejoin="miter" stroke-miterlimit="3"/>
<path transform="translate(25.70,0)" d="M1.15,-4.45 C1.8,-4.85 2.5,-5.0 3.1,-5.0 C4.4,-5.0 5.15,-4.0 5.15,-2.85 C5.15,-1.55 4.3,-0.85 2.95,-0.85 C1.9,-0.85 0.9,-1.25 0.3,-1.95" fill="none" stroke="#000" stroke-width="1.75" stroke-linejoin="miter" stroke-miterlimit="3"/>
</g>
<g transform="translate(807.00,303.70) scale(0.9682,1)">
<path transform="translate(0.00,0)" d="M0.3,-7.55 L5.5,-7.55 L2.7,-4.75 L3.1,-4.75 C4.5,-4.75 5.3,-3.9 5.3,-2.75 C5.3,-1.55 4.4,-0.85 3.0,-0.85 C1.9,-0.85 1.0,-1.25 0.4,-1.95" fill="none" stroke="#000" stroke-width="1.75" stroke-linejoin="bevel" stroke-miterlimit="3"/>
<path transform="translate(7.70,0)" d="M0.000,-4.200 a4.400,4.200 0 1,0 8.800,0 a4.400,4.200 0 1,0 -8.800,0 Z M1.850,-4.200 a2.550,2.550 0 1,0 5.100,0 a2.550,2.550 0 1,0 -5.100,0 Z" fill="#000" fill-rule="evenodd"/>
<path transform="translate(7.70,0)" d="M4.5,-1.5 L6.1,0.4 Q6.7,1.1 7.6,1.1 L9.0,1.1" fill="none" stroke="#000" stroke-width="1.6" stroke-linejoin="miter" stroke-miterlimit="3"/>
<path transform="translate(17.80,0)" d="M0.8,-6.0 C1.3,-7.2 2.2,-7.55 3.3,-7.55 C4.7,-7.55 5.55,-6.7 5.55,-5.6 C5.55,-4.7 5.0,-4.1 4.1,-3.35 L1.0,-0.95" fill="none" stroke="#000" stroke-width="1.75" stroke-linejoin="miter" stroke-miterlimit="3"/>
<path transform="translate(17.80,0)" d="M0.05,-0.85 L6.5,-0.85" fill="none" stroke="#000" stroke-width="1.75" stroke-linejoin="miter" stroke-miterlimit="3"/>
<path transform="translate(25.40,0)" d="M5.4,-7.55 L1.15,-7.55 L1.15,-4.3" fill="none" stroke="#000" stroke-width="1.75" stroke-linejoin="miter" stroke-miterlimit="3"/>
<path transform="translate(25.40,0)" d="M1.15,-4.45 C1.8,-4.85 2.5,-5.0 3.1,-5.0 C4.4,-5.0 5.15,-4.0 5.15,-2.85 C5.15,-1.55 4.3,-0.85 2.95,-0.85 C1.9,-0.85 0.9,-1.25 0.3,-1.95" fill="none" stroke="#000" stroke-width="1.75" stroke-linejoin="miter" stroke-miterlimit="3"/>
</g>
<rect x="0" y="0" width="860" height="1" fill="#a39461" fill-opacity="0.52"/>
<rect x="0" y="400" width="860" height="1" fill="#a39461" fill-opacity="0.52"/>
<rect x="0" y="0" width="1" height="401" fill="#a39461" fill-opacity="0.52"/>
<rect x="859" y="0" width="1" height="401" fill="#a39461" fill-opacity="0.52"/>
</svg></div></body></html>
